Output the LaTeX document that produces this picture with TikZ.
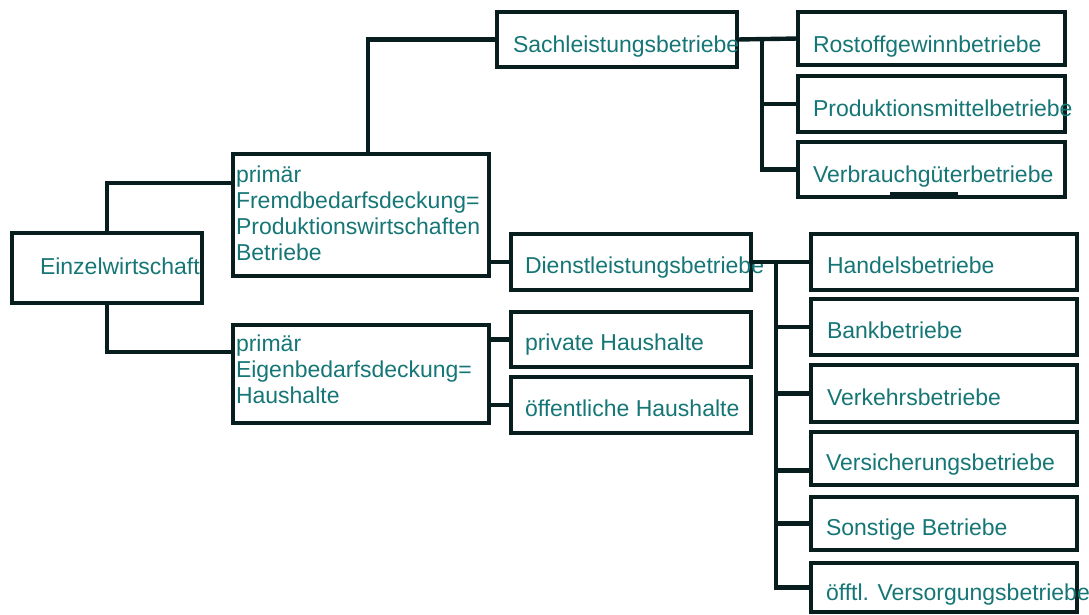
\documentclass[tikz,border=0pt]{standalone}
\usepackage{fontspec}
\setmainfont{Liberation Sans}
\definecolor{linecol}{RGB}{8,30,30}
\definecolor{txtcol}{RGB}{22,118,118}
\tikzset{
  box/.style={draw=linecol, line width=4.4pt, rectangle, inner sep=0pt, outer sep=0pt},
  lbl/.style={anchor=base west, inner sep=0pt, outer sep=0pt, text=txtcol,
              font=\fontsize{23}{25.7}\selectfont},
  conn/.style={draw=linecol, line width=4.4pt}
}
\begin{document}
\begin{tikzpicture}[x=1pt,y=-1pt]
\useasboundingbox (0,0) rectangle (1089,614);
% boxes (centre, size)
\node[box, minimum width=190pt, minimum height=70pt] (einzel) at (107,268) {};
\node[box, minimum width=256pt, minimum height=122pt] (fremd) at (361,215) {};
\node[box, minimum width=256pt, minimum height=98pt] (eigen) at (361,374) {};
\node[box, minimum width=240pt, minimum height=55pt] (sach) at (617,39.5) {};
\node[box, minimum width=240pt, minimum height=56pt] (dienst) at (631,262) {};
\node[box, minimum width=240pt, minimum height=55pt] (priv) at (631,339.5) {};
\node[box, minimum width=240pt, minimum height=56pt] (oeff) at (631,405) {};
\node[box, minimum width=267pt, minimum height=53pt] (rost) at (931.5,38.5) {};
\node[box, minimum width=267pt, minimum height=56pt] (prod) at (931.5,104) {};
\node[box, minimum width=267pt, minimum height=55pt] (verb) at (931.5,169.5) {};
\node[box, minimum width=266pt, minimum height=56pt] (hand) at (944,262) {};
\node[box, minimum width=266pt, minimum height=56pt] (bank) at (944,327) {};
\node[box, minimum width=266pt, minimum height=57pt] (verk) at (944,393.5) {};
\node[box, minimum width=266pt, minimum height=53pt] (vers) at (944,458.5) {};
\node[box, minimum width=266pt, minimum height=53pt] (sonst) at (944,523.5) {};
\node[box, minimum width=266pt, minimum height=49pt] (vers2) at (944,587.5) {};
% small bar under Verbrauchgueterbetriebe
\coordinate (barA) at (890,193);
\coordinate (barB) at (958,193);
\draw[draw=linecol, line width=3pt] (barA) -- (barB);
% texts
\node[lbl] (einzelT) at (40,274) {Einzelwirtschaft};
\node[lbl, align=left] (fremdT) at (236,260) {primär\\Fremdbedarfsdeckung=\\Produktionswirtschaften\\Betriebe};
\node[lbl, align=left, font=\fontsize{23}{26}\selectfont] (eigenT) at (236,403) {primär\\Eigenbedarfsdeckung=\\Haushalte};
\node[lbl] (sachT) at (513,52) {Sachleistungsbetriebe};
\node[lbl] (rostT) at (813,52) {Rostoffgewinnbetriebe};
\node[lbl] (prodT) at (813,116) {Produktionsmittelbetriebe};
\node[lbl] (verbT) at (813,182) {Verbrauchgüterbetriebe};
\node[lbl] (dienstT) at (525,273) {Dienstleistungsbetriebe};
\node[lbl] (privT) at (525,350) {private Haushalte};
\node[lbl] (oeffT) at (525,416) {öffentliche Haushalte};
\node[lbl] (handT) at (827,273) {Handelsbetriebe};
\node[lbl] (bankT) at (827,338) {Bankbetriebe};
\node[lbl] (verkT) at (827,405) {Verkehrsbetriebe};
\node[lbl] (versT) at (826,470) {Versicherungsbetriebe};
\node[lbl] (sonstT) at (826,535) {Sonstige Betriebe};
\node[lbl] (vers2T) at (826,600) {öfftl. Versorgungsbetriebe};
% connectors
\draw[conn] (einzel.north) |- ([yshift=32pt]fremd.west);
\draw[conn] (einzel.south) |- ([yshift=22pt]eigen.west);
\draw[conn] ([xshift=7pt]fremd.north) |- (sach.west);
\draw[conn] (dienst.west -| fremd.east) -- (dienst.west);
\draw[conn] (priv.west -| eigen.east) -- (priv.west);
\draw[conn] (oeff.west -| eigen.east) -- (oeff.west);
\draw[conn] (sach.east) -- (rost.west);
\draw[conn] ([xshift=25pt]sach.east) |- (prod.west);
\draw[conn] ([xshift=25pt]sach.east) |- (verb.west);
\draw[conn] (dienst.east) -- (hand.west);
\draw[conn] ([xshift=25pt]dienst.east) |- (bank.west);
\draw[conn] ([xshift=25pt]dienst.east) |- (verk.west);
\draw[conn] ([xshift=25pt]dienst.east) |- ([yshift=-12pt]vers.west);
\draw[conn] ([xshift=25pt]dienst.east) |- (sonst.west);
\draw[conn] ([xshift=25pt]dienst.east) |- (vers2.west);
\end{tikzpicture}
\end{document}
